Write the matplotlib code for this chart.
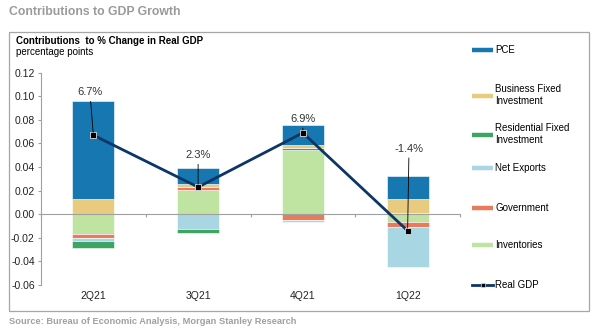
import numpy as np
import matplotlib
matplotlib.use("Agg")
import matplotlib.pyplot as plt
from matplotlib.lines import Line2D
from matplotlib.patches import Rectangle
import matplotlib.transforms as mtransforms

plt.rcParams['font.family'] = ['Liberation Sans', 'DejaVu Sans']

# data
quarters = ['2Q21', '3Q21', '4Q21', '1Q22']
inventories = [-0.0164, 0.0203, 0.0548, -0.0070]
government = [-0.0034, 0.0028, -0.0045, -0.0042]
net_exports = [-0.0029, -0.0127, -0.0020, -0.0335]
residential = [-0.0056, -0.0034, 0.0013, 0.0008]
business_fixed = [0.0127, 0.0023, 0.0028, 0.0125]
pce = [0.0830, 0.0142, 0.0170, 0.0189]
real_gdp = [0.067, 0.023, 0.069, -0.014]
gdp_labels = ['6.7%', '2.3%', '6.9%', '-1.4%']

# stacking order (as in the source chart) and legend order
series = [
    ('Inventories', inventories, '#bfe3a1'),
    ('Government', government, '#e97b5c'),
    ('Net Exports', net_exports, '#a8d6e3'),
    ('Residential Fixed\nInvestment', residential, '#3fa462'),
    ('Business Fixed\nInvestment', business_fixed, '#e9cb80'),
    ('PCE', pce, '#1777b0'),
]
legend_order = ['PCE', 'Business Fixed\nInvestment', 'Residential Fixed\nInvestment',
                'Net Exports', 'Government', 'Inventories']
gdp_color = '#0b3666'
grey = '#a0a0a0'

W, H = 603, 336
fig = plt.figure(figsize=(W / 100, H / 100), dpi=100)
ax = fig.add_axes([41 / W, 1 - 285 / H, (460 - 41) / W, (285 - 72.7) / H])

x = np.arange(len(quarters))
pos_base = np.zeros(len(quarters))
neg_base = np.zeros(len(quarters))
for name, vals, col in series:
    v = np.array(vals)
    bottoms = np.where(v >= 0, pos_base, neg_base)
    ax.bar(x, v, width=0.4, bottom=bottoms, color=col, edgecolor='white',
           linewidth=0.4, zorder=2)
    pos_base += np.where(v >= 0, v, 0)
    neg_base += np.where(v < 0, v, 0)

ax.plot(x, real_gdp, color=gdp_color, lw=2, marker='s', markersize=4,
        markerfacecolor='black', markeredgecolor='#dddddd', markeredgewidth=0.6,
        zorder=4)

offsets = [(-2.5, 31), (0, 23), (0, 10), (1, 59)]
for xi, yi, lab, off in zip(x, real_gdp, gdp_labels, offsets):
    ax.annotate(lab, xy=(xi, yi), xytext=off, textcoords='offset points',
                ha='center', va='center', fontsize=8, color='#333333',
                arrowprops=dict(arrowstyle='-', color='black', lw=0.6,
                                shrinkA=1, shrinkB=2),
                zorder=5)

ax.set_xlim(-0.5, 3.5)
ax.set_ylim(-0.06, 0.12)
ax.set_yticks(np.arange(-0.06, 0.121, 0.02))
ax.yaxis.set_major_formatter(matplotlib.ticker.FormatStrFormatter('%.2f'))
ax.tick_params(axis='y', labelsize=7.5, labelcolor='#222222', color=grey,
               length=2.5, width=0.8, pad=2)
ax.set_xticks(np.arange(-0.5, 3.6, 1))
ax.set_xticklabels([])
ax.tick_params(axis='x', color=grey, length=2.5, width=0.8)
ax.spines['bottom'].set_position(('data', 0))
ax.spines['bottom'].set_color(grey)
ax.spines['left'].set_color(grey)
ax.spines['top'].set_visible(False)
ax.spines['right'].set_visible(False)
ax.patch.set_alpha(0)

trans = mtransforms.blended_transform_factory(ax.transData, ax.transAxes)
for xi, q in zip(x, quarters):
    ax.text(xi, 0, q, transform=trans + mtransforms.ScaledTranslation(0, -11 / 100, fig.dpi_scale_trans),
            ha='center', va='center', fontsize=7.5, color='#222222')

# legend, one entry per row placed like the original
colors = {name: col for name, _, col in series}
legend_y = [50, 95, 134, 168, 208, 245, 285]
leg_kw = dict(loc='center left', frameon=False, fontsize=7, handlelength=2.2,
              handletextpad=0.2, borderpad=0, borderaxespad=0)
for name, ly in zip(legend_order, legend_y):
    h = Line2D([], [], color=colors[name], lw=3.2, solid_capstyle='butt')
    fig.legend([h], [name], bbox_to_anchor=(472 / W, 1 - ly / H), **leg_kw)
h = Line2D([], [], color=gdp_color, lw=2, marker='s', markersize=3.5,
           markerfacecolor='black', markeredgecolor='#dddddd', markeredgewidth=0.5)
fig.legend([h], ['Real GDP'], bbox_to_anchor=(472 / W, 1 - legend_y[-1] / H), **leg_kw)

# frame and texts
fig.add_artist(Rectangle((9 / W, 1 - 311 / H), (589 - 9) / W, (311 - 32) / H,
                         transform=fig.transFigure, fill=False, edgecolor='#a6a6a6', lw=0.9))
fig.text(9 / W, 1 - 12 / H, 'Contributions to GDP Growth', fontsize=8.8, fontweight='bold',
         color='#9a9a9a', va='center', ha='left')
fig.text(16 / W, 1 - 40.5 / H, 'Contributions  to % Change in Real GDP', fontsize=7,
         fontweight='bold', color='black', va='center', ha='left')
fig.text(16 / W, 1 - 52 / H, 'percentage points', fontsize=7, color='black',
         va='center', ha='left')
fig.text(9 / W, 1 - 322 / H, 'Source: Bureau of Economic Analysis, Morgan Stanley Research',
         fontsize=6.7, fontweight='bold', color='#a0a0a0', va='center', ha='left')

fig.savefig('out.png', dpi=100)
